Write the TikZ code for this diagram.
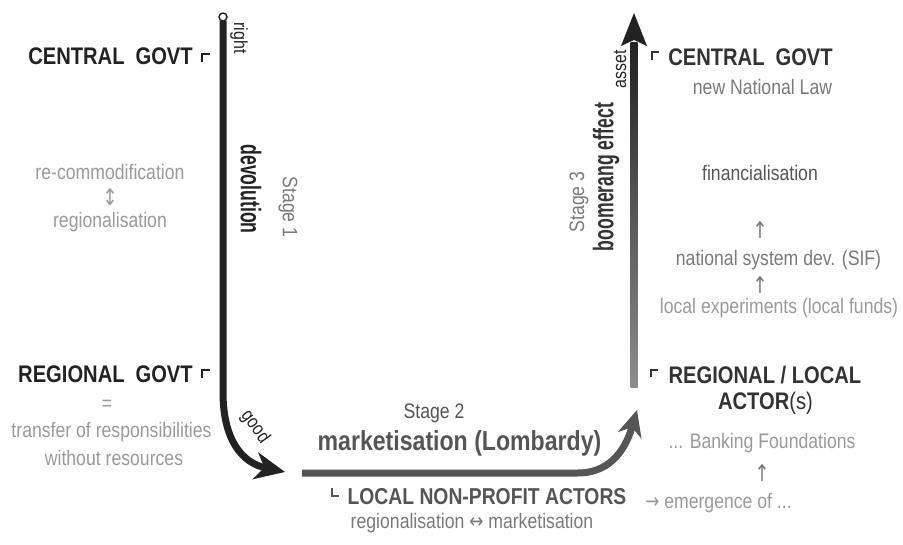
\documentclass[tikz,border=0pt]{standalone}
\usepackage{fontspec}
\setmainfont{Liberation Sans}[FakeStretch=0.84]
\newfontfamily\arrowfont{DejaVu Sans}[FakeStretch=0.8]
\usetikzlibrary{arrows.meta}

\definecolor{ink}{HTML}{222222}
\definecolor{dark}{HTML}{333333}
\definecolor{mid}{HTML}{555555}
\definecolor{dim}{HTML}{7A7A7A}
\definecolor{soft}{HTML}{9A9A9A}

\newcommand{\tall}[1]{\scalebox{1}[1.35]{#1}}

\tikzset{
  head/.style={font=\fontsize{24}{26}\selectfont\bfseries, inner sep=0pt},
  note/.style={font=\fontsize{21}{23}\selectfont, inner sep=0pt},
  sign/.style={font=\arrowfont\fontsize{23}{25}\selectfont, inner sep=0pt},
  tag/.style={font=\fontsize{19}{21}\selectfont, inner sep=0pt, text=ink},
  slant/.style={font=\fontsize{21}{23}\selectfont\bfseries, inner sep=0pt},
  corner/.style={line width=1.3pt, line cap=butt, line join=miter}
}

\begin{document}
\begin{tikzpicture}[x=1pt, y=-1pt, >=Stealth, line join=round, line cap=round]
	\useasboundingbox (0,0) rectangle (903,544);
	
	% left column
	\node[head, text=ink] (cgovtL) at (110.5,56) {CENTRAL\hspace{11pt}GOVT};
	\node[note, text=soft] (recomm) at (110,172) {re-commodification};
	\node[sign, text=soft] (updown) at (110,197) {↕};
	\node[note, text=soft] (regionL) at (110,222) {regionalisation};
	\node[head, text=ink] (rgovt) at (105.5,374) {REGIONAL\hspace{11pt}GOVT};
	\node[note, text=soft] (equal) at (107,405) {=};
	\node[note, text=soft] (transfer) at (111.5,432) {transfer of responsibilities};
	\node[note, text=soft] (noresrc) at (114,458) {without resources};
	\draw[corner, ink] (202,62) -- (202,54) -- (210,54);
	\draw[corner, ink] (202,378) -- (202,370) -- (210,370);
	
	% stage 1
	\coordinate (devtop) at (223,21);
	\coordinate (devbend) at (223,392);
	\coordinate (devtip) at (285,472);
	\draw[ink, line width=7pt, line cap=butt, -{Stealth[length=30pt,width=27pt,inset=9pt]}]
		(devtop) -- (devbend) .. controls (223,440) and (242,463) .. (devtip);
	\draw[ink, line width=1.5pt, fill=white] (223,17) circle (4pt);
	\node[tag, rotate=-90] (right) at (239,38) {right};
	\node[slant, rotate=-90, text=ink] (devol) at (251,189) {\tall{devolution}};
	\node[note, rotate=-90, text=dim] (stage1) at (288,207) {Stage 1};
	\node[tag, rotate=-54] (good) at (255,427) {good};
	
	% stage 2
	\coordinate (mkstart) at (302,473);
	\coordinate (mkbend) at (578,473);
	\coordinate (mktip) at (637,410);
	\draw[mid, line width=7pt, line cap=butt, -{Stealth[length=26pt,width=24pt,inset=8pt]}]
		(mkstart) -- (mkbend) .. controls (606,473) and (624,455) .. (mktip);
	\node[note, text=mid] (stage2) at (434,413) {Stage 2};
	\node[font=\fontsize{27.5}{30}\selectfont\bfseries, inner sep=0pt, text=mid] (market) at (459.5,443) {marketisation (Lombardy)};
	\node[font=\fontsize{23}{26}\selectfont\bfseries, inner sep=0pt, text=mid] (nonprofit) at (487,497) {LOCAL NON-PROFIT ACTORS};
	\node[note, text=dim] (regmark) at (472,523) {regionalisation {\arrowfont ↔} marketisation};
	\draw[corner, mid] (332,488) -- (332,496) -- (339,496);
	
	% stage 3
	\coordinate (bmfoot) at (634,387);
	\coordinate (bmtip) at (634,13);
	\shade[top color=ink, bottom color=black!45] (630.5,42) rectangle (637.5,387);
	\fill[ink] (bmtip) -- (647,46) -- (634,40) -- (621,46) -- cycle;
	\node[tag, rotate=90] (asset) at (620,69) {asset};
	\node[slant, rotate=90, text=dark] (boomer) at (606,177) {\tall{boomerang effect}};
	\node[note, rotate=90, text=dim] (stage3) at (579,202) {Stage 3};
	
	% right column
	\node[head, text=dark] (cgovtR) at (750.5,57) {CENTRAL\hspace{11pt}GOVT};
	\node[note, text=dim] (natlaw) at (762.5,87) {new National Law};
	\node[note, text=mid] (financ) at (760,173) {financialisation};
	\node[sign, text=dim] (up1) at (760,230) {↑};
	\node[note, text=dim] (sif) at (778.5,260) {national system dev. (SIF)};
	\node[sign, text=dim] (up2) at (760,285) {↑};
	\node[note, text=soft] (localexp) at (779,308) {local experiments (local funds)};
	\node[head, text=dark] (rlocal) at (765,375) {REGIONAL / LOCAL};
	\node[head, text=dark] (actors) at (765.5,403) {ACTOR{\mdseries(s)}};
	\node[note, text=soft] (banking) at (762,443) {... Banking Foundations};
	\node[sign, text=dim] (up3) at (762,473) {↑};
	\node[note, text=soft] (emerge) at (718.5,503) {{\arrowfont →} emergence of ...};
	\draw[corner, dark] (652,60) -- (652,52) -- (659,52);
	\draw[corner, dark] (651,377) -- (651,370) -- (658,370);
\end{tikzpicture}
\end{document}
